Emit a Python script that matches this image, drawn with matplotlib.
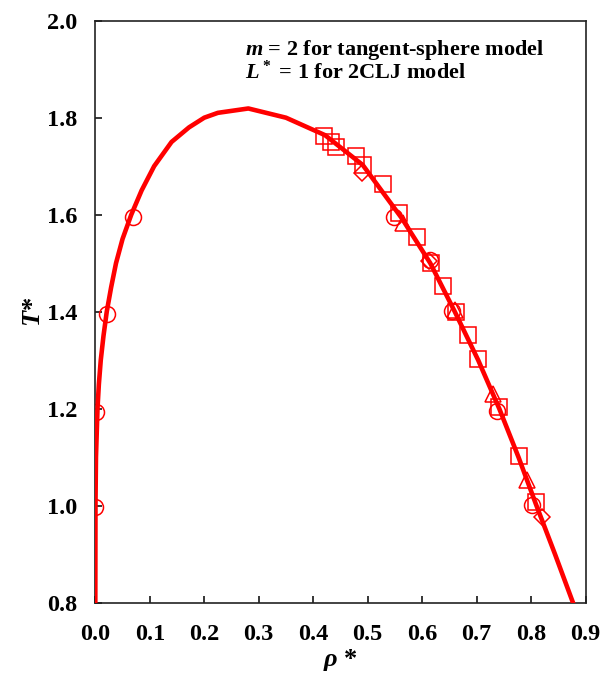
import numpy as np
import matplotlib
matplotlib.use("Agg")
import matplotlib.pyplot as plt

# coexistence curve (line)
rho_line = [0.0, 0.0003, 0.0012, 0.004, 0.0065, 0.010, 0.015, 0.021, 0.029, 0.038,
            0.050, 0.066, 0.085, 0.108, 0.140, 0.172, 0.200, 0.225, 0.281, 0.35,
            0.4217, 0.491, 0.5625, 0.615, 0.660, 0.703, 0.7417, 0.777, 0.810, 0.844,
            0.877]
T_line = [0.80, 1.00, 1.10, 1.20, 1.25, 1.30, 1.35, 1.40, 1.45, 1.50,
          1.55, 1.60, 1.65, 1.70, 1.75, 1.78, 1.80, 1.81, 1.819, 1.80,
          1.764, 1.7025, 1.593, 1.50, 1.40, 1.30, 1.20, 1.10, 1.00, 0.90,
          0.80]

# squares
rho_sq = [0.420, 0.432, 0.442, 0.478, 0.491, 0.529, 0.558, 0.591, 0.616, 0.639,
          0.662, 0.685, 0.703, 0.742, 0.777, 0.810]
T_sq = [1.762, 1.750, 1.739, 1.721, 1.702, 1.663, 1.603, 1.553, 1.501, 1.454,
        1.400, 1.352, 1.302, 1.203, 1.102, 1.008]

# circles
rho_ci = [0.0, 0.001, 0.021, 0.070, 0.549, 0.614, 0.655, 0.738, 0.801]
T_ci = [0.997, 1.193, 1.395, 1.596, 1.595, 1.507, 1.401, 1.196, 1.001]

# triangles
rho_tr = [0.565, 0.660, 0.731, 0.793]
T_tr = [1.583, 1.403, 1.230, 1.053]

# diamonds
rho_di = [0.489, 0.613, 0.820]
T_di = [1.685, 1.505, 0.977]

xticks = [0.0, 0.1, 0.2, 0.3, 0.4, 0.5, 0.6, 0.7, 0.8, 0.9]
yticks = [0.8, 1.0, 1.2, 1.4, 1.6, 1.8, 2.0]

plt.rcParams['font.family'] = ['Liberation Serif', 'DejaVu Serif']
plt.rcParams['font.weight'] = 'bold'
plt.rcParams['mathtext.fontset'] = 'custom'
plt.rcParams['mathtext.rm'] = 'Liberation Serif:bold'
plt.rcParams['mathtext.it'] = 'Liberation Serif:italic:bold'
plt.rcParams['mathtext.bf'] = 'Liberation Serif:bold'

fig = plt.figure(figsize=(6.04, 6.76), dpi=100)
ax = fig.add_axes([0.1578, 0.1084, 0.8116, 0.861])

red = '#ff0000'
ax.plot(rho_line, T_line, color=red, lw=3.3, zorder=3)
mk = dict(ls='none', mfc='none', mec=red, mew=1.1, zorder=2)
ax.plot(rho_sq, T_sq, marker='s', ms=11.5, **mk)
ax.plot(rho_ci, T_ci, marker='o', ms=11.5, **mk)
ax.plot(rho_tr, T_tr, marker='^', ms=11.5, **mk)
ax.plot(rho_di, T_di, marker='D', ms=8, **mk)

ax.set_xlim(0, 0.9)
ax.set_ylim(0.8, 2.0)
ax.set_xticks(xticks)
ax.set_yticks(yticks)
ax.set_xticklabels(['%.1f' % v for v in xticks])
ax.set_yticklabels(['%.1f' % v for v in yticks])
ax.tick_params(direction='in', length=5, width=1.1, labelsize=17.5, top=False, right=False)
ax.tick_params(axis='x', pad=15)
ax.tick_params(axis='y', pad=13)
for s in ax.spines.values():
    s.set_linewidth(1.2)
    s.set_color('#222222')

ax.set_xlabel(r'$\rho$ *', fontsize=19, fontweight='bold', labelpad=2)
ax.set_ylabel(r'$T$*', fontsize=19, fontweight='bold', labelpad=1)

ax.text(0.305, 0.949, r'$m$ = 2 for tangent-sphere model', transform=ax.transAxes,
        fontsize=16, fontweight='bold', va='center', ha='left')
ax.text(0.305, 0.911, r'$L^*$ = 1 for 2CLJ model', transform=ax.transAxes,
        fontsize=16, fontweight='bold', va='center', ha='left')

plt.savefig('out.png', dpi=100)
